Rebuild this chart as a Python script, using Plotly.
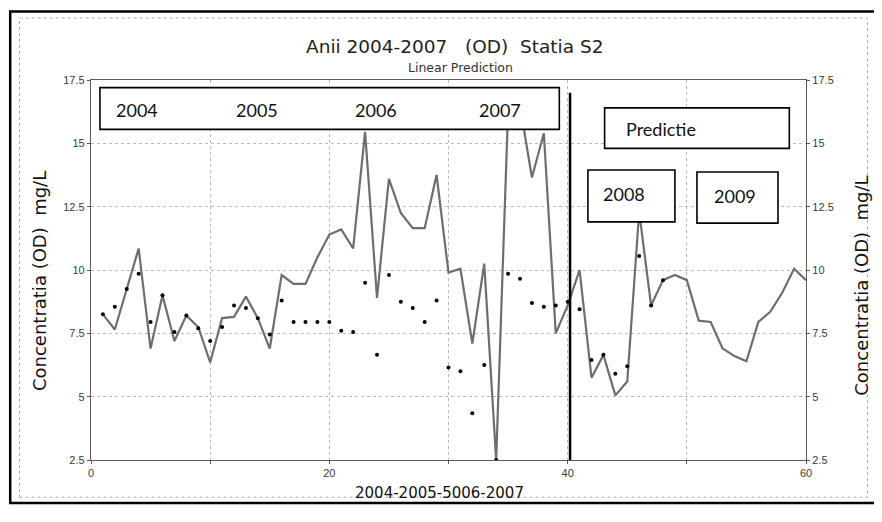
import plotly.graph_objects as go

# ---- data ----
line_x = list(range(1, 61))
line_y = [8.25, 7.65, 9.25, 10.85, 6.9, 9.0, 7.2, 8.2, 7.75, 6.35,
          8.1, 8.15, 8.95, 8.1, 6.9, 9.8, 9.45, 9.45, 10.5, 11.4,
          11.6, 10.85, 15.45, 8.9, 13.6, 12.25, 11.65, 11.65, 13.75, 9.9,
          10.05, 7.1, 10.25, 2.5, 16.3, 16.5, 13.65, 15.4, 7.5, 8.6,
          10.0, 5.75, 6.65, 5.05, 5.6, 12.3, 8.6, 9.6, 9.8, 9.6,
          8.0, 7.95, 6.9, 6.6, 6.4, 7.95, 8.35, 9.1, 10.05, 9.6]

dot_x = list(range(1, 49))
dot_y = [8.25, 8.55, 9.25, 9.85, 7.95, 9.0, 7.55, 8.2, 7.7, 7.2,
         7.75, 8.6, 8.5, 8.1, 7.45, 8.8, 7.95, 7.95, 7.95, 7.95,
         7.6, 7.55, 9.5, 6.65, 9.8, 8.75, 8.5, 7.95, 8.8, 6.15,
         6.0, 4.35, 6.25, 2.5, 9.85, 9.65, 8.7, 8.55, 8.6, 8.75,
         8.45, 6.45, 6.65, 5.9, 6.2, 10.55, 8.6, 9.6]

year_labels = ["2004", "2005", "2006", "2007"]
year_label_x = [3.9, 13.9, 23.9, 34.3]
pred_years = ["2008", "2009"]

y_ticks = [2.5, 5, 7.5, 10, 12.5, 15, 17.5]
y_ticktext = ["2.5", "5", "7.5", "10", "12.5", "15", "17.5"]
x_ticks = [0, 10, 20, 30, 40, 50, 60]
x_ticktext = ["0", "", "20", "", "40", "", "60"]

title = "Anii 2004-2007   (OD)  Statia S2"
subtitle = "Linear Prediction"
y_title = "Concentratia (OD)  mg/L"
x_title = "2004-2005-5006-2007"

fig = go.Figure()
fig.add_trace(go.Scatter(x=line_x, y=line_y, mode="lines",
                         line=dict(color="rgb(110,110,110)", width=2.2),
                         showlegend=False, hoverinfo="skip"))
fig.add_trace(go.Scatter(x=dot_x, y=dot_y, mode="markers", yaxis="y2",
                         marker=dict(color="black", size=4),
                         showlegend=False))

grid = "rgb(185,185,185)"
axis_common = dict(showline=True, linecolor="rgb(90,90,90)", linewidth=1.3,
                   zeroline=False,
                   tickfont=dict(family="Liberation Sans Narrow, Liberation Sans", size=11,
                                 color="rgb(60,60,60)"),
                   ticks="outside", ticklen=3, tickcolor="rgb(90,90,90)")
grid_style = dict(gridcolor=grid, griddash="dot", gridwidth=1)

fig.update_layout(
    width=882, height=522,
    margin=dict(l=83, r=84, t=72, b=70),
    paper_bgcolor="white", plot_bgcolor="white",
    xaxis=dict(range=[0, 60], tickvals=x_ticks, ticktext=x_ticktext,
               mirror=True, **axis_common, **grid_style),
    yaxis=dict(range=[2.5, 17.5], tickvals=y_ticks, ticktext=y_ticktext,
               mirror=True, **axis_common, **grid_style),
    yaxis2=dict(range=[2.5, 17.5], tickvals=y_ticks, ticktext=y_ticktext,
                overlaying="y", side="right", showgrid=False, **axis_common),
    showlegend=False,
)

font_main = "DejaVu Sans, sans-serif"
box_font = dict(family="Lato, Noto Sans, sans-serif", size=18, color="#111")

def ann(text, x, y, ref, font, angle=0):
    return dict(text=text, x=x, y=y, xref=ref[0], yref=ref[1], showarrow=False,
                xanchor="center", yanchor="middle", textangle=angle, font=font)

P = ("paper", "paper")
D = ("x", "y")
annots = [
    ann(title, 0.508, 1.087, P, dict(family=font_main, size=18.5, color="#222")),
    ann(subtitle, 0.517, 1.032, P, dict(family=font_main, size=12.5, color="#333")),
    ann(y_title, -0.0727, 0.471, P, dict(family=font_main, size=18, color="#111"), -90),
    ann(y_title, 1.078, 0.458, P, dict(family=font_main, size=18, color="#111"), -90),
    ann(x_title, 0.488, -0.087, P, dict(family=font_main, size=15, color="#111")),
]
for lab, lx in zip(year_labels, year_label_x):
    annots.append(ann(lab, lx, 16.3, D, box_font))
annots.append(ann("Predictie", 47.8, 15.55, D, box_font))
annots.append(ann(pred_years[0], 44.7, 13.0, D, box_font))
annots.append(ann(pred_years[1], 54.0, 12.92, D, box_font))
fig.update_layout(annotations=annots)

box_line = dict(color="black", width=1.6)
shapes = [
    dict(type="rect", xref="x", yref="y", x0=0.75, x1=39.3, y0=15.55, y1=17.2,
         fillcolor="white", line=box_line, layer="above"),
    dict(type="rect", xref="x", yref="y", x0=43.1, x1=58.6, y0=14.8, y1=16.4,
         fillcolor="white", line=box_line, layer="above"),
    dict(type="rect", xref="x", yref="y", x0=41.7, x1=49.0, y0=11.9, y1=13.95,
         fillcolor="white", line=box_line, layer="above"),
    dict(type="rect", xref="x", yref="y", x0=50.85, x1=57.65, y0=11.85, y1=13.87,
         fillcolor="white", line=box_line, layer="above"),
    # vertical separator at the end of 2007
    dict(type="line", xref="x", yref="y", x0=40.2, x1=40.2, y0=2.45, y1=17.0,
         line=dict(color="black", width=2.5), layer="above"),
    # outer frame
    dict(type="rect", xref="paper", yref="paper", x0=-0.113, x1=1.098, y0=-0.113, y1=1.18,
         line=dict(color="black", width=2.5)),
    dict(type="rect", xref="paper", yref="paper", x0=-0.1, x1=1.086, y0=-0.098, y1=1.163,
         line=dict(color="rgb(170,170,170)", width=1, dash="dot")),
]
fig.update_layout(shapes=shapes)

fig.write_html("out.html")
